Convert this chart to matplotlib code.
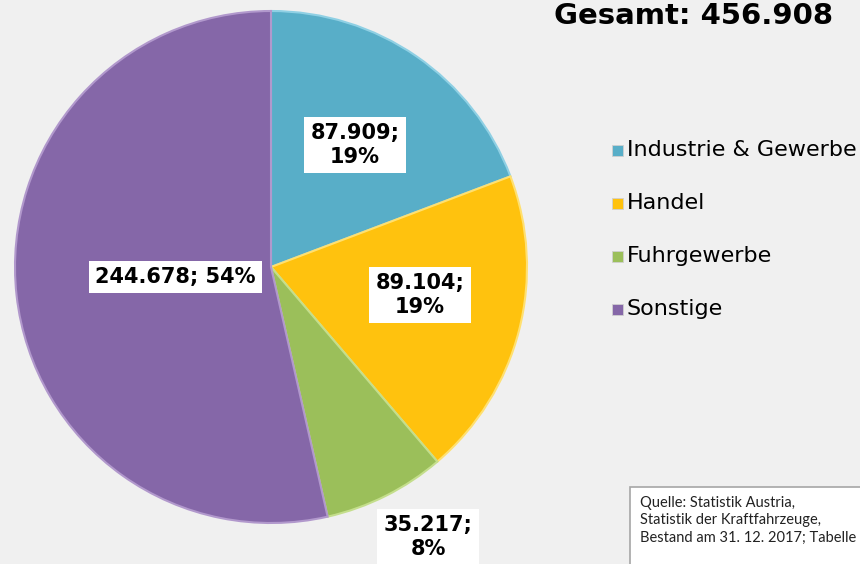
import matplotlib
matplotlib.use("Agg")
import matplotlib.pyplot as plt
from matplotlib.patches import Rectangle
import numpy as np

categories = ["Industrie & Gewerbe", "Handel", "Fuhrgewerbe", "Sonstige"]
values = [87909, 89104, 35217, 244678]
value_labels = ["87.909;\n19%", "89.104;\n19%", "35.217;\n8%", "244.678; 54%"]
title = "Gesamt: 456.908"
source = "Quelle: Statistik Austria,\nStatistik der Kraftfahrzeuge,\nBestand am 31. 12. 2017; Tabelle"

colors = ["#58aec8", "#ffc20e", "#9bbf5a", "#8567a8"]
edge_colors = ["#8fd0e4", "#ffe070", "#c4de8c", "#b198cc"]

W, H = 860, 564
fig = plt.figure(figsize=(W / 100, H / 100), dpi=100)
fig.patch.set_facecolor("#f0f0f0")
ax = fig.add_axes([0, 0, 1, 1])
ax.set_xlim(0, W)
ax.set_ylim(0, H)
ax.set_aspect("equal")
ax.axis("off")

cx, cy, R = 271, H - 267, 256
wedges, _ = ax.pie(values, colors=colors, startangle=90, counterclock=False,
                   center=(cx, cy), radius=R,
                   wedgeprops=dict(linewidth=1.5))
for w, ec in zip(wedges, edge_colors):
    w.set_edgecolor(ec)
ax.set_xlim(0, W)
ax.set_ylim(0, H)

# data labels
label_pos = [(355, 145), (420, 295), (428, 537), (175, 277)]
for (px, py), txt in zip(label_pos, value_labels):
    ax.text(px, H - py, txt, ha="center", va="center", fontsize=15,
            fontweight="bold", family="DejaVu Sans", linespacing=1.2,
            bbox=dict(boxstyle="square,pad=0.3", facecolor="white", edgecolor="none"))

# title
ax.text(694, H - 2, title, ha="center", va="top", fontsize=21,
        fontweight="bold", family="DejaVu Sans")

# legend
for i, (cat, col) in enumerate(zip(categories, colors)):
    y = H - (150 + i * 53)
    ax.add_patch(Rectangle((612, y - 5.5), 11, 11, facecolor=col, edgecolor="#d0d0d0", linewidth=0.6))
    ax.text(627, y, cat, ha="left", va="center", fontsize=16, family="DejaVu Sans")

# source box
ax.add_patch(Rectangle((630, H - 580), 260, 580 - 487, facecolor="white",
                       edgecolor="#a6a6a6", linewidth=1.2, clip_on=True))
ax.text(640, H - 496, source, ha="left", va="top", fontsize=10.5, family="Lato",
        linespacing=1.3, color="#222222")

fig.savefig("out.png", dpi=100, facecolor=fig.get_facecolor())
